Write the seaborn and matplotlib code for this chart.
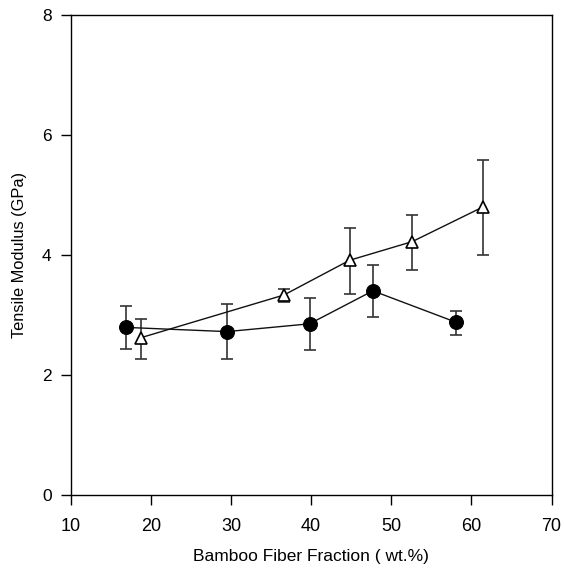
import matplotlib
matplotlib.use("Agg")
import matplotlib.pyplot as plt
import seaborn as sns
import pandas as pd
import numpy as np

# Series A: filled circles
x_circ = [16.9, 29.5, 39.8, 47.7, 58.1]
y_circ = [2.79, 2.72, 2.85, 3.40, 2.875]
err_circ_hi = [3.15, 3.18, 3.28, 3.83, 3.07]
err_circ_lo = [2.43, 2.26, 2.41, 2.97, 2.67]

# Series B: open triangles
x_tri = [18.8, 36.6, 44.8, 52.6, 61.45]
y_tri = [2.62, 3.33, 3.91, 4.22, 4.80]
err_tri_hi = [2.93, 3.43, 4.44, 4.67, 5.59]
err_tri_lo = [2.26, 3.21, 3.35, 3.74, 4.00]

x_ticks = [10, 20, 30, 40, 50, 60, 70]
y_ticks = [0, 2, 4, 6, 8]

sns.set_style("white")
plt.rcParams['font.family'] = ['Liberation Sans', 'DejaVu Sans']

fig = plt.figure(figsize=(5.64, 5.69), dpi=100)
ax = fig.add_axes([0.1254, 0.1306, 0.8526, 0.843])

df_c = pd.DataFrame({"x": x_circ, "y": y_circ})
df_t = pd.DataFrame({"x": x_tri, "y": y_tri})

# error bars
ax.errorbar(x_circ, y_circ,
            yerr=[np.array(y_circ) - np.array(err_circ_lo), np.array(err_circ_hi) - np.array(y_circ)],
            fmt='none', ecolor='#333333', elinewidth=1.2, capsize=4.3, capthick=1.2, zorder=2)
ax.errorbar(x_tri, y_tri,
            yerr=[np.array(y_tri) - np.array(err_tri_lo), np.array(err_tri_hi) - np.array(y_tri)],
            fmt='none', ecolor='#333333', elinewidth=1.2, capsize=4.3, capthick=1.2, zorder=2)

sns.lineplot(data=df_c, x="x", y="y", ax=ax, color='#111111', linewidth=1.0,
             marker='o', markersize=10, markerfacecolor='black', markeredgecolor='black',
             sort=False, zorder=3)
sns.lineplot(data=df_t, x="x", y="y", ax=ax, color='#111111', linewidth=1.0,
             marker='^', markersize=9, markerfacecolor='white', markeredgecolor='black',
             markeredgewidth=1.2, sort=False, zorder=3)

ax.set_xlim(10, 70)
ax.set_ylim(0, 8)
ax.set_xticks(x_ticks)
ax.set_yticks(y_ticks)
ax.tick_params(axis='both', which='major', direction='out', length=7.2, width=1,
               color='black', labelcolor='black', bottom=True, left=True)
ax.tick_params(axis='x', labelsize=13, pad=9.5)
ax.tick_params(axis='y', labelsize=12.5, pad=6.5)
for s in ax.spines.values():
    s.set_visible(True)
    s.set_color('black')
    s.set_linewidth(1.0)

ax.set_xlabel("Bamboo Fiber Fraction ( wt.%)", fontsize=12.5, labelpad=10.5, color='black')
ax.set_ylabel("Tensile Modulus (GPa)", fontsize=11.8, labelpad=11, color='black')

fig.savefig("out.png", dpi=100)
